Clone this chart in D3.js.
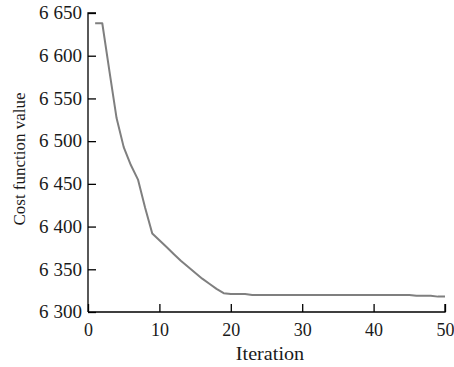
<!DOCTYPE html>
<html>
<head>
<meta charset="utf-8">
<script src="https://cdn.jsdelivr.net/npm/d3@7/dist/d3.min.js"></script>
<style>
  html, body { margin: 0; padding: 0; background: #fff; }
  svg { display: block; }
  text { font-family: "Liberation Serif", "Times New Roman", serif; fill: #1a1a1a; }
</style>
</head>
<body>
<svg id="chart" width="454" height="367"></svg>
<script>
// Data
const iterations = d3.range(1, 51);
const costValues = [
  6638, 6638, 6582, 6527, 6493, 6472, 6455, 6422, 6392, 6384,
  6376, 6368, 6360, 6353, 6346, 6339, 6333, 6327, 6322, 6321,
  6321, 6321, 6320, 6320, 6320, 6320, 6320, 6320, 6320, 6320,
  6320, 6320, 6320, 6320, 6320, 6320, 6320, 6320, 6320, 6320,
  6320, 6320, 6320, 6320, 6320, 6319, 6319, 6319, 6318, 6318
];
const xTicks = [0, 10, 20, 30, 40, 50];
const yTicks = [6300, 6350, 6400, 6450, 6500, 6550, 6600, 6650];
const xTitle = "Iteration";
const yTitle = "Cost function value";

(function () {
const svg = d3.select("#chart");
const mLeft = 88, mRight = 445, mTop = 13, mBottom = 312;

const x = d3.scaleLinear().domain([0, 50]).range([mLeft, mRight]);
const y = d3.scaleLinear().domain([6300, 6650]).range([mBottom, mTop]);

const fmt = v => { const s = String(v); return s[0] + " " + s.slice(1); };

// Y axis (ticks pointing inward)
const yAxis = d3.axisLeft(y).tickValues(yTicks).tickSize(-8).tickPadding(6).tickFormat(fmt);
const gy = svg.append("g").attr("transform", `translate(${mLeft},0)`).call(yAxis);
gy.select(".domain").attr("stroke", "#000").attr("stroke-width", 1.3).attr("d", `M0,${mBottom}V${mTop}h8`);
gy.selectAll(".tick line").attr("stroke", "#000").attr("stroke-width", 1.3);
gy.selectAll(".tick text")
  .style("font-family", "'Liberation Serif', serif")
  .style("font-size", "18px")
  .attr("fill", "#1a1a1a")
  .attr("x", -6 / 1.06)
  .attr("transform", "scale(1.06,1)");

// X axis (ticks pointing inward)
const xAxis = d3.axisBottom(x).tickValues(xTicks).tickSize(-8).tickPadding(11);
const gx = svg.append("g").attr("transform", `translate(0,${mBottom})`).call(xAxis);
gx.select(".domain").attr("stroke", "#000").attr("stroke-width", 1.3).attr("d", `M${mLeft},0H${mRight}v-8`);
gx.selectAll(".tick line").attr("stroke", "#000").attr("stroke-width", 1.3);
gx.selectAll(".tick text")
  .style("font-family", "'Liberation Serif', serif")
  .style("font-size", "18px")
  .attr("fill", "#1a1a1a");

// Line
const line = d3.line().x((d, i) => x(iterations[i])).y(d => y(d));
svg.append("path")
  .datum(costValues)
  .attr("fill", "none")
  .attr("stroke", "#7f7f7f")
  .attr("stroke-width", 2)
  .attr("stroke-linejoin", "round")
  .attr("d", line);

// Titles
svg.append("text")
  .attr("transform", "translate(270,360) scale(1.12,1)")
  .attr("text-anchor", "middle")
  .style("font-size", "18px")
  .text(xTitle);

svg.append("text")
  .attr("transform", "translate(25,159) rotate(-90)")
  .attr("text-anchor", "middle")
  .style("font-size", "17px")
  .text(yTitle);
})();
</script>
</body>
</html>
